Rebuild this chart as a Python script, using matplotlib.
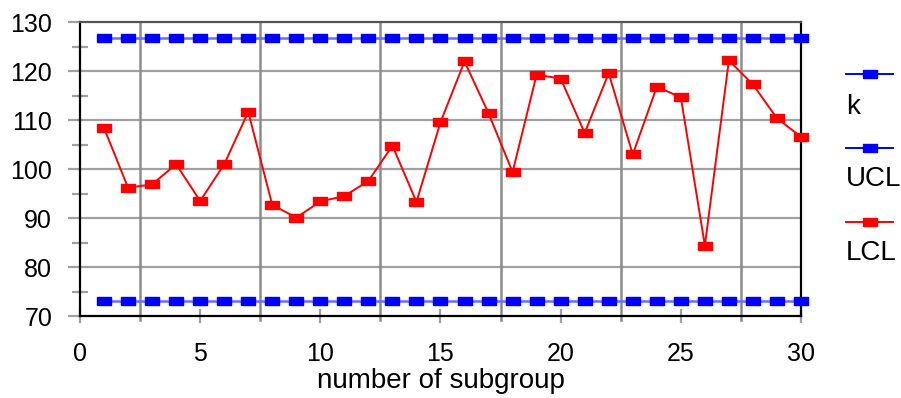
import matplotlib.pyplot as plt
from matplotlib.lines import Line2D

plt.rcParams['font.family'] = ['Liberation Sans', 'DejaVu Sans']

subgroup = list(range(1, 31))
values = [108.4, 96.2, 96.9, 101.0, 93.5, 101.0, 111.7, 92.7, 90.1, 93.4,
          94.5, 97.6, 104.8, 93.3, 109.6, 122.0, 111.4, 99.4, 119.3, 118.5,
          107.4, 119.6, 103.0, 116.8, 114.7, 84.4, 122.2, 117.3, 110.4, 106.6]
ucl = [126.85] * 30
lcl = [73.15] * 30
legend_labels = ['k', 'UCL', 'LCL']

# flat rectangle marker like the original
rect = [(-1, -0.55), (1, -0.55), (1, 0.55), (-1, 0.55), (-1, -0.55)]

fig = plt.figure(figsize=(9.01, 3.98), dpi=100)
ax = fig.add_axes([0.0888, 0.206, 0.8002, 0.738])

# grid
for yv in [80, 90, 100, 110, 120]:
    ax.axhline(yv, color='#a0a0a0', lw=1.6, zorder=1)
for xv in [2.5, 7.5, 12.5, 17.5, 22.5, 27.5]:
    ax.axvline(xv, ymin=-0.015, ymax=1, color='#8c8c8c', lw=1.8, zorder=1, clip_on=False)

ax.plot(subgroup, ucl, color='#6a6aff', lw=1.8, marker=rect, ms=9.5,
        mfc='#0000ff', mec='#0000ff', zorder=3, clip_on=False)
ax.plot(subgroup, lcl, color='#6a6aff', lw=1.8, marker=rect, ms=9.5,
        mfc='#0000ff', mec='#0000ff', zorder=3, clip_on=False)
ax.plot(subgroup, values, color='#ff0000', lw=1.4, marker=rect, ms=9.5,
        mfc='#ff0000', mec='#ff0000', zorder=4, clip_on=False)

ax.set_xlim(0, 30)
ax.set_ylim(70, 130)
ax.set_xticks(range(0, 31, 5))
ax.set_yticks(range(70, 131, 10))
ax.set_yticks(range(75, 130, 10), minor=True)
ax.tick_params(axis='y', which='major', direction='out', length=9, width=1.6,
               color='#a0a0a0', labelsize=18, pad=11)
ax.tick_params(axis='y', which='minor', direction='inout', length=12, width=1.6,
               color='#a0a0a0')
ax.tick_params(axis='x', which='major', direction='inout', length=10, width=1.6,
               color='#a0a0a0', labelsize=18, pad=14)

for side in ['left', 'bottom', 'right']:
    ax.spines[side].set_color('black')
    ax.spines[side].set_linewidth(1.6)
ax.spines['top'].set_color('#555555')
ax.spines['top'].set_linewidth(1.6)

ax.set_xlabel('number of subgroup', fontsize=20, labelpad=1)

# legend: line sample above each label
colors = ['#0000ff', '#0000ff', '#ff0000']
line_y = [1 - 74 / 398, 1 - 148 / 398, 1 - 222 / 398]
text_y = [1 - 107 / 398, 1 - 179 / 398, 1 - 253 / 398]
for lab, c, ly, ty in zip(legend_labels, colors, line_y, text_y):
    fig.add_artist(Line2D([846 / 901, 893 / 901], [ly, ly], color=c, lw=1.4))
    fig.add_artist(Line2D([869.5 / 901], [ly], color=c, marker=rect, ms=9.5, mfc=c, mec=c))
    fig.text(846 / 901, ty, lab, fontsize=20, va='center', ha='left')

fig.savefig('out.png', dpi=100)
